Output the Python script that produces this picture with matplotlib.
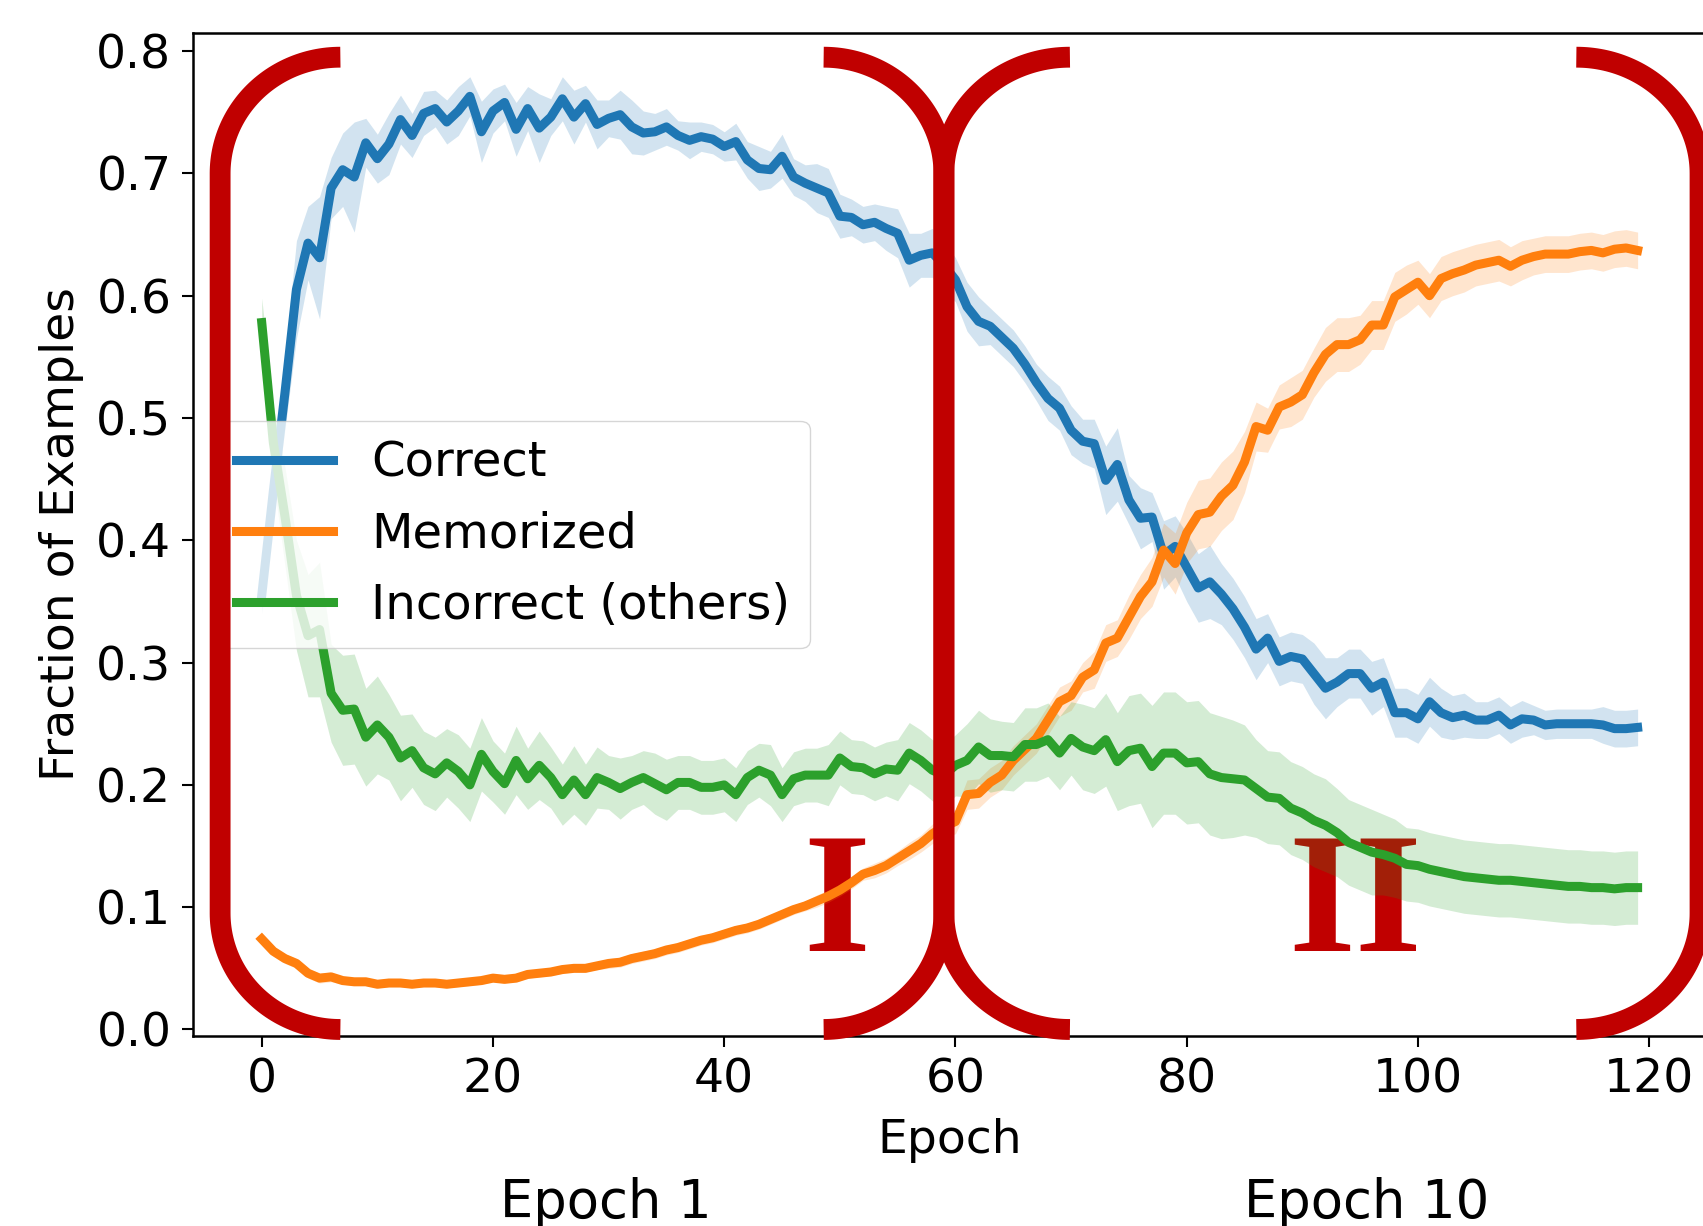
"""
Memorization dynamics: fraction of correct / memorized / incorrect examples per epoch,
with the two training phases (I, II) marked by red brackets.
"""

import numpy as np
import matplotlib
matplotlib.use("Agg")
import matplotlib.pyplot as plt
import matplotlib.transforms as mtransforms


# ── colours ──
COLOR_CORRECT = "#1f77b4"
COLOR_MEMO = "#ff7f0e"
COLOR_INCORRECT = "#2ca02c"
COLOR_BRACKET = "#C00000"

# ── data ──
epochs = np.arange(120)

correct = [
    0.355, 0.440, 0.520, 0.605, 0.643, 0.631, 0.688, 0.703, 0.697, 0.725,
    0.712, 0.724, 0.744, 0.731, 0.749, 0.753, 0.742, 0.751, 0.763, 0.734,
    0.751, 0.758, 0.736, 0.753, 0.737, 0.746, 0.761, 0.746, 0.757, 0.740,
    0.745, 0.748, 0.738, 0.733, 0.734, 0.738, 0.731, 0.727, 0.730, 0.728,
    0.722, 0.726, 0.711, 0.704, 0.703, 0.714, 0.697, 0.692, 0.688, 0.684,
    0.665, 0.664, 0.658, 0.660, 0.655, 0.651, 0.629, 0.633, 0.635, 0.625,
    0.613, 0.591, 0.579, 0.575, 0.566, 0.557, 0.544, 0.529, 0.516, 0.508,
    0.490, 0.481, 0.479, 0.449, 0.462, 0.433, 0.418, 0.419, 0.388, 0.395,
    0.378, 0.361, 0.366, 0.356, 0.344, 0.329, 0.311, 0.320, 0.301, 0.305,
    0.303, 0.291, 0.279, 0.284, 0.291, 0.291, 0.279, 0.284, 0.259, 0.259,
    0.254, 0.268, 0.259, 0.255, 0.257, 0.253, 0.253, 0.257, 0.249, 0.254,
    0.253, 0.249, 0.250, 0.250, 0.250, 0.250, 0.249, 0.246, 0.246, 0.247,
]
correct_err = [
    0.015, 0.020, 0.030, 0.040, 0.030, 0.050, 0.025, 0.030, 0.045, 0.020,
    0.020, 0.025, 0.020, 0.018, 0.018, 0.015, 0.018, 0.020, 0.016, 0.025,
    0.018, 0.015, 0.022, 0.018, 0.028, 0.015, 0.018, 0.022, 0.015, 0.020,
    0.015, 0.020, 0.022, 0.018, 0.015, 0.015, 0.012, 0.015, 0.012, 0.012,
    0.012, 0.015, 0.015, 0.018, 0.015, 0.018, 0.015, 0.015, 0.020, 0.020,
    0.018, 0.015, 0.015, 0.015, 0.018, 0.020, 0.022, 0.018, 0.020, 0.020,
    0.018, 0.020, 0.020, 0.015, 0.015, 0.015, 0.015, 0.015, 0.018, 0.018,
    0.020, 0.018, 0.020, 0.028, 0.030, 0.020, 0.025, 0.020, 0.028, 0.025,
    0.028, 0.028, 0.030, 0.025, 0.025, 0.025, 0.025, 0.020, 0.020, 0.020,
    0.020, 0.025, 0.025, 0.020, 0.020, 0.020, 0.022, 0.020, 0.020, 0.020,
    0.020, 0.020, 0.020, 0.018, 0.018, 0.015, 0.015, 0.015, 0.015, 0.015,
    0.012, 0.012, 0.012, 0.012, 0.012, 0.012, 0.015, 0.015, 0.015, 0.015,
]

memorized = [
    0.074, 0.064, 0.058, 0.054, 0.046, 0.042, 0.043, 0.040, 0.039, 0.039,
    0.037, 0.038, 0.038, 0.037, 0.038, 0.038, 0.037, 0.038, 0.039, 0.040,
    0.042, 0.041, 0.042, 0.045, 0.046, 0.047, 0.049, 0.050, 0.050, 0.052,
    0.054, 0.055, 0.058, 0.060, 0.062, 0.065, 0.067, 0.070, 0.073, 0.075,
    0.078, 0.081, 0.083, 0.086, 0.090, 0.094, 0.098, 0.101, 0.105, 0.109,
    0.114, 0.120, 0.127, 0.130, 0.134, 0.140, 0.146, 0.152, 0.160, 0.166,
    0.170, 0.192, 0.193, 0.202, 0.208, 0.220, 0.229, 0.238, 0.253, 0.268,
    0.273, 0.288, 0.294, 0.316, 0.320, 0.337, 0.354, 0.366, 0.392, 0.381,
    0.406, 0.421, 0.423, 0.436, 0.445, 0.464, 0.493, 0.490, 0.509, 0.513,
    0.519, 0.537, 0.552, 0.560, 0.560, 0.564, 0.576, 0.576, 0.599, 0.605,
    0.611, 0.600, 0.614, 0.618, 0.621, 0.625, 0.627, 0.629, 0.624, 0.629,
    0.632, 0.634, 0.634, 0.634, 0.636, 0.637, 0.635, 0.638, 0.639, 0.637,
]
memorized_err = [
    0.005, 0.004, 0.004, 0.004, 0.004, 0.004, 0.004, 0.003, 0.003, 0.003,
    0.003, 0.003, 0.003, 0.003, 0.003, 0.003, 0.003, 0.003, 0.003, 0.003,
    0.003, 0.003, 0.003, 0.003, 0.003, 0.003, 0.003, 0.003, 0.003, 0.003,
    0.004, 0.004, 0.004, 0.004, 0.004, 0.004, 0.004, 0.004, 0.004, 0.004,
    0.004, 0.004, 0.004, 0.004, 0.004, 0.004, 0.004, 0.004, 0.005, 0.005,
    0.005, 0.005, 0.005, 0.006, 0.006, 0.006, 0.007, 0.007, 0.008, 0.008,
    0.010, 0.012, 0.012, 0.012, 0.012, 0.012, 0.012, 0.012, 0.012, 0.012,
    0.012, 0.012, 0.015, 0.015, 0.015, 0.018, 0.018, 0.020, 0.022, 0.025,
    0.025, 0.028, 0.028, 0.028, 0.028, 0.025, 0.020, 0.018, 0.018, 0.020,
    0.020, 0.020, 0.022, 0.022, 0.022, 0.020, 0.020, 0.020, 0.020, 0.020,
    0.018, 0.018, 0.018, 0.018, 0.018, 0.017, 0.017, 0.017, 0.016, 0.016,
    0.015, 0.015, 0.015, 0.015, 0.015, 0.015, 0.015, 0.015, 0.015, 0.015,
]

incorrect = [
    0.578, 0.480, 0.420, 0.355, 0.322, 0.327, 0.275, 0.261, 0.262, 0.239,
    0.249, 0.239, 0.222, 0.228, 0.214, 0.209, 0.218, 0.211, 0.200, 0.225,
    0.211, 0.201, 0.220, 0.205, 0.216, 0.206, 0.192, 0.204, 0.192, 0.206,
    0.202, 0.197, 0.202, 0.206, 0.201, 0.196, 0.202, 0.202, 0.198, 0.198,
    0.200, 0.192, 0.206, 0.212, 0.208, 0.192, 0.205, 0.208, 0.208, 0.208,
    0.222, 0.215, 0.214, 0.209, 0.213, 0.212, 0.226, 0.220, 0.212, 0.208,
    0.216, 0.220, 0.231, 0.224, 0.224, 0.223, 0.233, 0.233, 0.237, 0.226,
    0.238, 0.231, 0.228, 0.237, 0.219, 0.228, 0.230, 0.215, 0.226, 0.226,
    0.218, 0.219, 0.209, 0.206, 0.205, 0.204, 0.197, 0.190, 0.189, 0.181,
    0.177, 0.171, 0.167, 0.161, 0.153, 0.149, 0.145, 0.143, 0.140, 0.135,
    0.134, 0.131, 0.129, 0.127, 0.125, 0.124, 0.123, 0.122, 0.122, 0.121,
    0.120, 0.119, 0.118, 0.117, 0.117, 0.116, 0.116, 0.115, 0.116, 0.116,
]
incorrect_err = [
    0.020, 0.030, 0.040, 0.045, 0.050, 0.055, 0.040, 0.045, 0.045, 0.040,
    0.040, 0.035, 0.035, 0.030, 0.030, 0.030, 0.028, 0.030, 0.030, 0.030,
    0.025, 0.025, 0.028, 0.025, 0.028, 0.025, 0.025, 0.028, 0.025, 0.025,
    0.022, 0.025, 0.022, 0.022, 0.025, 0.025, 0.022, 0.022, 0.022, 0.022,
    0.022, 0.022, 0.022, 0.022, 0.025, 0.022, 0.022, 0.022, 0.022, 0.025,
    0.022, 0.022, 0.022, 0.022, 0.022, 0.025, 0.025, 0.025, 0.025, 0.025,
    0.025, 0.030, 0.030, 0.030, 0.028, 0.028, 0.030, 0.030, 0.030, 0.030,
    0.030, 0.035, 0.035, 0.038, 0.040, 0.045, 0.045, 0.050, 0.050, 0.050,
    0.050, 0.050, 0.050, 0.050, 0.048, 0.045, 0.040, 0.038, 0.038, 0.038,
    0.038, 0.038, 0.038, 0.036, 0.035, 0.035, 0.035, 0.033, 0.032, 0.030,
    0.030, 0.030, 0.030, 0.030, 0.030, 0.030, 0.030, 0.030, 0.030, 0.030,
    0.030, 0.030, 0.030, 0.030, 0.030, 0.030, 0.030, 0.030, 0.030, 0.030,
]

series = [
    ("Correct", correct, correct_err, COLOR_CORRECT),
    ("Memorized", memorized, memorized_err, COLOR_MEMO),
    ("Incorrect (others)", incorrect, incorrect_err, COLOR_INCORRECT),
]

# phase brackets: (stem x, open-end x) in epochs, spanning y from 0.0 to 0.795
bracket_stems = [-3.6, 59.0, 59.0, 124.4]
bracket_ends = [6.8, 48.6, 69.9, 113.7]
bracket_ytop, bracket_ybot, bracket_ry = 0.795, 0.0, 0.095

phase_marks = ["I", "II"]
phase_mark_x = [49.7, 94.6]
phase_mark_y = 0.064
phase_names = ["Epoch 1", "Epoch 10"]
phase_name_x = [29.8, 95.6]


def draw_bracket(ax, stem_x, end_x):
    rx = end_x - stem_x
    t = np.linspace(0, np.pi / 2, 60)
    # top corner: open end -> stem, bottom corner: stem -> open end
    xs_top = end_x - rx * np.sin(t)
    ys_top = (bracket_ytop - bracket_ry) + bracket_ry * np.cos(t)
    xs_bot = end_x - rx * np.cos(t)
    ys_bot = (bracket_ybot + bracket_ry) - bracket_ry * np.sin(t)
    ax.plot(np.r_[xs_top, xs_bot], np.r_[ys_top, ys_bot], color=COLOR_BRACKET,
            lw=15, solid_capstyle="butt", solid_joinstyle="round",
            zorder=6, clip_on=False)


fig = plt.figure(figsize=(17.03, 12.26), dpi=100)
ax = fig.add_axes([0.1133, 0.155, 0.8887, 0.8181])

for label, vals, err, color in series:
    vals = np.asarray(vals)
    err = np.asarray(err)
    ax.fill_between(epochs, vals - err, vals + err, color=color, alpha=0.2,
                    linewidth=0, zorder=1)
    ax.plot(epochs, vals, color=color, lw=6.5, label=label, zorder=2)

for sx, ex in zip(bracket_stems, bracket_ends):
    draw_bracket(ax, sx, ex)

for txt, x in zip(phase_marks, phase_mark_x):
    ax.text(x, phase_mark_y, txt, color=COLOR_BRACKET, fontsize=124,
            fontfamily="Liberation Serif", fontweight="bold",
            ha="center", va="baseline", zorder=0.5)

trans = mtransforms.blended_transform_factory(ax.transData, ax.transAxes)
for txt, x in zip(phase_names, phase_name_x):
    ax.text(x, -0.1815, txt, transform=trans, fontsize=38,
            ha="center", va="baseline", clip_on=False)

ax.set_xlim(-5.95, 124.95)
ax.set_ylim(-0.0053, 0.8148)
ax.set_xticks([0, 20, 40, 60, 80, 100, 120])
ax.set_yticks([0.0, 0.1, 0.2, 0.3, 0.4, 0.5, 0.6, 0.7, 0.8])
ax.set_yticklabels([f"{v:.1f}" for v in ax.get_yticks()])
ax.tick_params(labelsize=34, length=8, width=1.5, pad=7.5)
for sp in ax.spines.values():
    sp.set_linewidth(1.8)

ax.set_xlabel("Epoch", fontsize=34, labelpad=11)
ax.set_ylabel("Fraction of Examples", fontsize=34, labelpad=8.5)

ax.legend(loc="center left", fontsize=34.7, handlelength=2.0)

fig.savefig("out.png", dpi=100)
